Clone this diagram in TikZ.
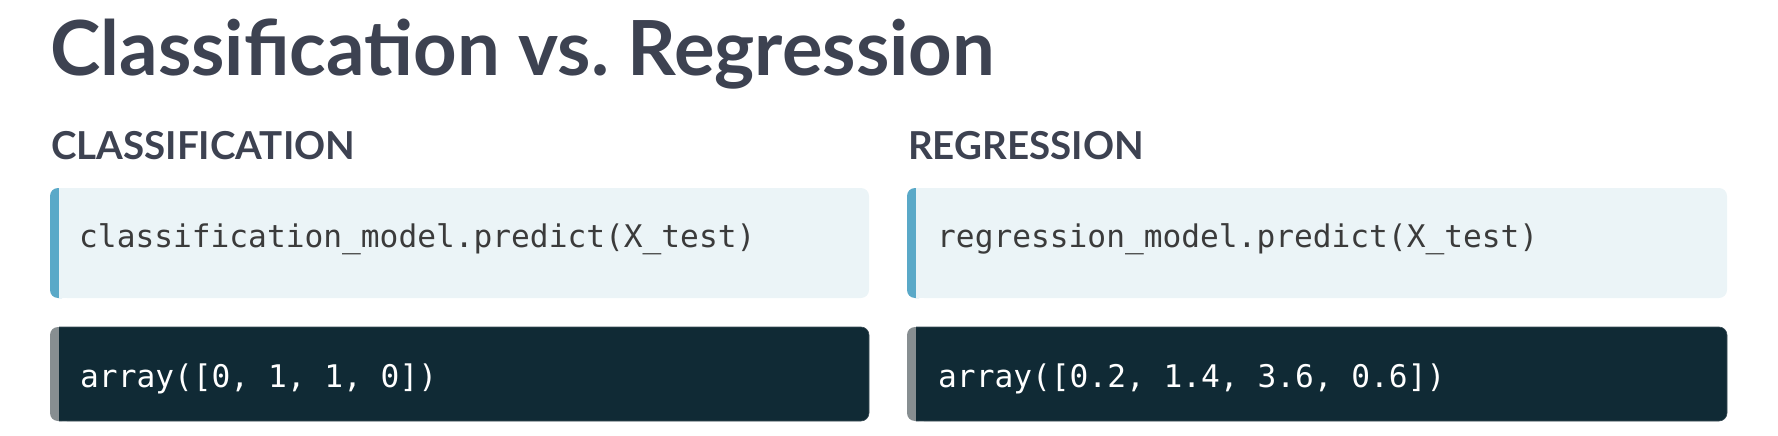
\documentclass[tikz,border=0pt]{standalone}
\usepackage{fontspec}
\setmainfont{Lato}
\newfontfamily\codefont{DejaVu Sans Mono}
\definecolor{titlecol}{HTML}{3D4251}
\definecolor{lightbox}{HTML}{EBF4F7}
\definecolor{bluebar}{HTML}{5AA9C8}
\definecolor{darkbox}{HTML}{102A35}
\definecolor{darkedge}{HTML}{3A4C55}
\definecolor{graybar}{HTML}{878E91}
\definecolor{codecol}{HTML}{3B3B3B}
\frenchspacing
\tikzset{
  titletext/.style={anchor=base west, inner sep=0pt, text=titlecol, font=\fontsize{76}{90}\selectfont\bfseries},
  headtext/.style={anchor=base west, inner sep=0pt, text=titlecol, font=\fontsize{38.5}{44}\selectfont\bfseries},
  codelight/.style={anchor=base west, inner sep=0pt, text=codecol, font=\fontsize{31.2}{36}\selectfont\codefont},
  codedark/.style={anchor=base west, inner sep=0pt, text=white, font=\fontsize{31.2}{36}\selectfont\codefont},
}
\begin{document}
\begin{tikzpicture}[x=1pt,y=-1pt]
\useasboundingbox (0,0) rectangle (1778,436);
% title and headings
\node[titletext] (title) at (50,76) {Classification vs. Regression};
\node[headtext] (hclass) at (51,159) {CLASSIFICATION};
\node[headtext] (hreg) at (908,159) {REGRESSION};
% boxes
\foreach \xl/\xr in {50/869, 907/1727}{
  \fill[bluebar, rounded corners=8] (\xl,188) rectangle ({\xl+20},298);
  \fill[lightbox, rounded corners=8] ({\xl+9},188) rectangle (\xr,298);
  \fill[lightbox] ({\xl+9},188) rectangle ({\xl+25},298);
  \fill[graybar, rounded corners=8] (\xl,327) rectangle ({\xl+20},421);
  \fill[darkbox, rounded corners=8] ({\xl+9},327) rectangle (\xr,421);
  \fill[darkbox] ({\xl+9},327) rectangle ({\xl+25},421);
  \draw[darkedge, line width=0.6pt, rounded corners=8] ({\xl+9},327) -- (\xr,327) -- (\xr,421) -- ({\xl+9},421);
}
\node[codelight] (c1) at (79,247) {classification\_model.predict(X\_test)};
\node[codelight] (c2) at (937,247) {regression\_model.predict(X\_test)};
\node[codedark] (r1) at (80,387) {array([0, 1, 1, 0])};
\node[codedark] (r2) at (938,387) {array([0.2, 1.4, 3.6, 0.6])};
\end{tikzpicture}
\end{document}
